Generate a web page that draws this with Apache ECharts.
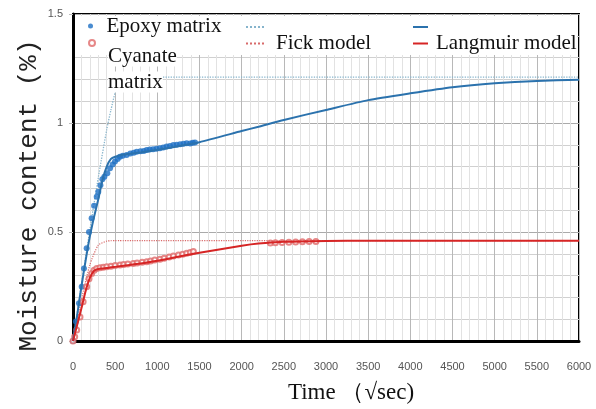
<!DOCTYPE html>
<html>
<head>
<meta charset="utf-8">
<script src="https://cdn.jsdelivr.net/npm/echarts@6/dist/echarts.min.js"></script>
<style>html,body{margin:0;padding:0;background:#fff}#c{width:596px;height:409px}</style>
</head>
<body>
<div id="c"></div>
<script>
// ---- data ----
const epoxyT = [0,35,71,103,130,162,190,221,250,281,300,325,348,372,407,439,470,498,530,557,590,636,680,720,755,800,840,874,910,950,990,1031,1070,1110,1150,1190,1230,1270,1310,1348,1390,1420,1447];
const epoxyM = [0,0.09,0.173,0.249,0.333,0.425,0.5,0.563,0.62,0.662,0.685,0.715,0.742,0.754,0.77,0.792,0.81,0.823,0.835,0.845,0.85,0.853,0.86,0.864,0.868,0.87,0.872,0.876,0.878,0.88,0.882,0.884,0.888,0.892,0.895,0.899,0.9,0.903,0.905,0.907,0.906,0.909,0.91];

const cyanT = [0,20,44,83,120,162,190,221,250,281,320,360,400,450,500,557,600,650,715,760,820,874,920,970,1031,1080,1140,1190,1250,1300,1348,1390,1427,2340,2400,2480,2560,2640,2720,2800,2880];
const cyanM = [0,0.02,0.05,0.11,0.18,0.249,0.285,0.31,0.325,0.333,0.336,0.338,0.341,0.343,0.346,0.349,0.351,0.353,0.356,0.358,0.361,0.364,0.367,0.371,0.375,0.38,0.385,0.39,0.394,0.398,0.402,0.406,0.41,0.45,0.451,0.452,0.453,0.454,0.455,0.456,0.456];

const langT = [0,50,100,150,200,250,300,350,400,450,500,600,800,1000,1200,1500,2000,2200,2500,3000,3500,4000,4500,5000,5500,6000];
const langEpoxy = [0,0.12,0.25,0.37,0.48,0.57,0.65,0.74,0.80,0.835,0.845,0.855,0.865,0.877,0.89,0.912,0.963,0.983,1.014,1.06,1.105,1.136,1.164,1.182,1.193,1.198];
const langCyan = [0,0.075,0.15,0.23,0.29,0.322,0.33,0.333,0.335,0.338,0.34,0.345,0.355,0.368,0.383,0.405,0.437,0.447,0.455,0.459,0.46,0.46,0.46,0.46,0.46,0.46];

const fickT = [0,100,200,300,400,450,500,550,600,700,6000];
const fickEpoxy = [0,0.26,0.51,0.75,0.97,1.06,1.14,1.19,1.21,1.21,1.21];
const fickCyan = [0,0.19,0.35,0.44,0.458,0.46,0.46,0.46,0.46,0.46,0.46];

const xTicks = {min:0, max:6000, step:500};
const yTicks = {min:0, max:1.5, step:0.5};

const pair = (xs, ys) => xs.map((x, i) => [x, ys[i]]);

const serif = 'Liberation Serif';
const legendText = {fontFamily: serif, fontSize: 21, color: '#111', lineHeight: 22};

const chart = echarts.init(document.getElementById('c'));
chart.setOption({
  animation: false,
  backgroundColor: '#fff',
  grid: {left: 73, right: 17, top: 14, bottom: 68, show: true, borderColor: '#000', borderWidth: 2, backgroundColor: 'transparent'},
  graphic: {elements: [{type: 'rect', z: 1, shape: {x: 75, y: 16, width: 502, height: 39}, style: {fill: '#fff'}}]},
  legend: [
    {data: [{name: 'Epoxy matrix', icon: 'circle'}], left: 88, top: 15, padding: 0, itemWidth: 22, itemHeight: 5,
     textStyle: Object.assign({}, legendText, {padding: [0,0,0,0]}), selectedMode: false},
    {data: [{name: 'Cyanate matrix', icon: 'emptyCircle'}], left: 88, top: -9, padding: 0, itemWidth: 22, itemHeight: 6,
     formatter: () => '\n\n{b|Cyanate}\n{b|matrix}',
     textStyle: Object.assign({}, legendText, {lineHeight: 26, padding: [0,0,0,0],
       rich: {b: {fontFamily: serif, fontSize: 21, color: '#111', lineHeight: 26, backgroundColor: '#fff'}}}), selectedMode: false},
    {data: ['Fick model (epoxy)'], left: 245, top: 22, padding: 0, itemWidth: 18, itemHeight: 10, formatter: () => '', selectedMode: false},
    {data: ['Fick model'], left: 245, top: 30, padding: 0, itemWidth: 18, itemHeight: 10,
     textStyle: Object.assign({}, legendText, {padding: [0,0,5,7]}), selectedMode: false},
    {data: ['Langmuir model (epoxy)'], left: 412, top: 22, padding: 0, itemWidth: 15, itemHeight: 10, formatter: () => '', selectedMode: false},
    {data: ['Langmuir model'], left: 412, top: 30, padding: 0, itemWidth: 15, itemHeight: 10,
     textStyle: Object.assign({}, legendText, {padding: [0,0,5,3]}), selectedMode: false}
  ],
  xAxis: {
    type: 'value', min: xTicks.min, max: xTicks.max, interval: xTicks.step,
    name: 'Time （√sec)', nameLocation: 'middle', nameGap: 40, nameMoveOverlap: false,
    nameTextStyle: {fontFamily: serif, fontSize: 23, color: '#111', padding: [0,0,0,50]},
    axisLine: {show: true, onZero: false, lineStyle: {color: '#000', width: 3}},
    axisTick: {show: false},
    axisLabel: {margin: 20, color: '#555', fontSize: 11, fontFamily: 'Liberation Sans', formatter: v => String(v)},
    splitLine: {show: true, lineStyle: {color: '#b8b8b8', width: 1}},
    minorTick: {show: true, splitNumber: 5, length: 0, lineStyle: {width: 0}},
    minorSplitLine: {show: true, lineStyle: {color: '#e2e2e2', width: 1}}
  },
  yAxis: {
    type: 'value', min: yTicks.min, max: yTicks.max, interval: yTicks.step,
    name: 'Moisture content (%)', nameLocation: 'middle', nameGap: 31, nameRotate: 90, nameMoveOverlap: false,
    nameTextStyle: {fontFamily: 'Liberation Mono', fontSize: 26, color: '#222', padding: [0,36,0,0]},
    axisLine: {show: true, onZero: false, lineStyle: {color: '#000', width: 3}},
    axisTick: {show: true, length: 4, lineStyle: {color: '#bbb'}},
    axisLabel: {margin: 10, color: '#555', fontSize: 11, fontFamily: 'Liberation Sans'},
    splitLine: {show: true, lineStyle: {color: '#aaaaaa', width: 1}},
    minorTick: {show: true, splitNumber: 5, length: 0, lineStyle: {width: 0}},
    minorSplitLine: {show: true, lineStyle: {color: '#d0d0d0', width: 1}}
  },
  series: [
    {name: 'Fick model (epoxy)', type: 'line', data: pair(fickT, fickEpoxy), symbol: 'none', smooth: 0.2,
     lineStyle: {color: '#86b4cc', width: 1.3, type: 'dotted'}, itemStyle: {color: '#86b4cc', opacity: 0}, z: 3},
    {name: 'Fick model', type: 'line', data: pair(fickT, fickCyan), symbol: 'none', smooth: 0.2,
     lineStyle: {color: '#d86a6a', width: 1.2, type: 'dotted'}, itemStyle: {color: '#d86a6a', opacity: 0}, z: 3},
    {name: 'Epoxy matrix', type: 'scatter', data: pair(epoxyT, epoxyM), symbol: 'circle', symbolSize: 6,
     itemStyle: {color: '#1d6fc4'}, z: 4},
    {name: 'Cyanate matrix', type: 'scatter', data: pair(cyanT, cyanM), symbol: 'emptyCircle', symbolSize: 5,
     itemStyle: {color: '#e06a6a', borderColor: '#e06a6a', borderWidth: 1}, z: 4},
    {name: 'Langmuir model (epoxy)', type: 'line', data: pair(langT, langEpoxy), symbol: 'none', smooth: 0.2,
     lineStyle: {color: '#2b72ad', width: 2}, itemStyle: {color: '#2b72ad', opacity: 0}, z: 5},
    {name: 'Langmuir model', type: 'line', data: pair(langT, langCyan), symbol: 'none', smooth: 0.2,
     lineStyle: {color: '#d62525', width: 2}, itemStyle: {color: '#d62525', opacity: 0}, z: 5}
  ]
});
</script>
</body>
</html>
